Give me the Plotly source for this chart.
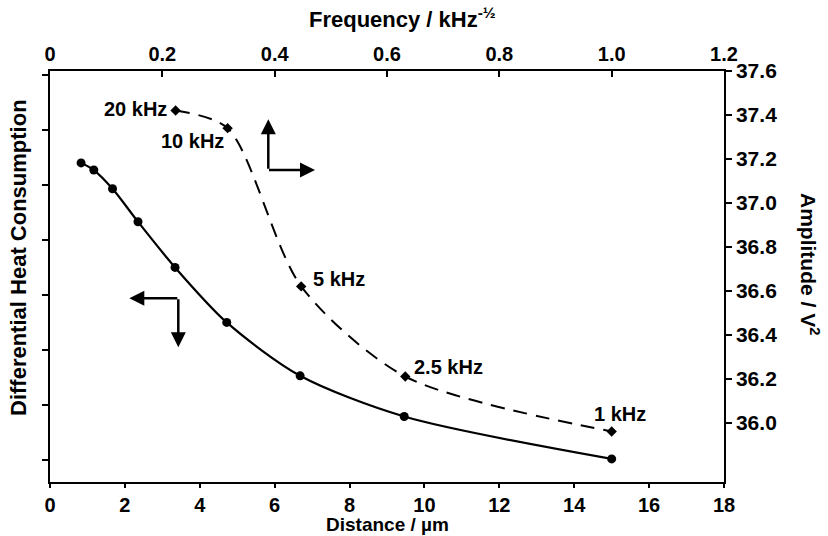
import plotly.graph_objects as go

# ---- data ----
distance_um = [0.83, 1.17, 1.67, 2.35, 3.34, 4.72, 6.68, 9.46, 15.0]
heat_consumption = [5.40, 5.27, 4.93, 4.33, 3.50, 2.50, 1.53, 0.79, 0.02]

freq_labels = ["20 kHz", "10 kHz", "5 kHz", "2.5 kHz", "1 kHz"]
freq_inv_sqrt = [0.2236, 0.3162, 0.4472, 0.6325, 1.0]
amplitude_v2 = [37.42, 37.34, 36.62, 36.21, 35.96]

bottom_ticks = [0, 2, 4, 6, 8, 10, 12, 14, 16, 18]
top_ticks = [0, 0.2, 0.4, 0.6, 0.8, 1.0, 1.2]
top_ticktext = ["0", "0.2", "0.4", "0.6", "0.8", "1.0", "1.2"]
right_ticks = [36.0, 36.2, 36.4, 36.6, 36.8, 37.0, 37.2, 37.4, 37.6]
left_ticks = [0, 1, 2, 3, 4, 5, 6, 7]

FONT = "Liberation Sans, Arial, sans-serif"

fig = go.Figure()

fig.add_trace(go.Scatter(
    x=distance_um, y=heat_consumption, mode="lines+markers",
    line=dict(color="black", width=2.2, shape="spline", smoothing=0.8),
    marker=dict(symbol="circle", size=9, color="black"),
    xaxis="x", yaxis="y", showlegend=False))

fig.add_trace(go.Scatter(
    x=freq_inv_sqrt, y=amplitude_v2, mode="lines+markers",
    line=dict(color="black", width=2, dash="14px,9px", shape="spline", smoothing=0.8),
    marker=dict(symbol="diamond", size=8, color="black"),
    xaxis="x2", yaxis="y2", showlegend=False))

axis_common = dict(showline=True, linecolor="black", linewidth=1.5,
                   showgrid=False, zeroline=False, tickcolor="black",
                   tickwidth=1.5, ticklen=6)
tick_font = dict(family=FONT, size=20, color="black", weight="bold")

fig.update_layout(
    width=828, height=536,
    margin=dict(l=50, r=104, t=71, b=54),
    paper_bgcolor="white", plot_bgcolor="white",
    font=dict(family=FONT, color="black", size=20),
    xaxis=dict(range=[0, 18], tickvals=bottom_ticks, ticks="outside",
               tickfont=tick_font, **{**axis_common, "ticklen": 4}),
    xaxis2=dict(range=[0, 1.2], tickvals=top_ticks, ticktext=top_ticktext,
                ticks="inside", side="top", overlaying="x", anchor="y",
                tickfont=tick_font, **axis_common),
    yaxis=dict(range=[-0.4, 7.07], tickvals=left_ticks, ticks="outside",
               showticklabels=False, **axis_common),
    yaxis2=dict(range=[35.73, 37.6], tickvals=right_ticks, tickformat=".1f",
                ticks="outside", side="right", overlaying="y", anchor="x",
                tickfont=dict(family=FONT, size=21, color="black", weight="bold"),
                **axis_common),
)

ann = []
# point labels
offsets = [("right", -7, 2), ("right", -2, -13), ("left", 10, 7), ("left", 7, 10), ("center", 8, 17)]
for lab, fx, amp, (xa, dx, dy) in zip(freq_labels, freq_inv_sqrt, amplitude_v2, offsets):
    ann.append(dict(x=fx, y=amp, xref="x2", yref="y2", text="<b>%s</b>" % lab,
                    showarrow=False, xanchor=xa, yanchor="middle", xshift=dx, yshift=dy,
                    font=dict(size=20)))

# axis titles
ann.append(dict(x=(402 - 50) / 674, y=1, xref="paper", yref="paper", yshift=53,
                text="<b>Frequency / kHz<sup>-½</sup></b>", showarrow=False,
                font=dict(size=22), xanchor="center", yanchor="middle"))
ann.append(dict(x=(387 - 50) / 674, y=0, xref="paper", yref="paper", yshift=-42,
                text="<b>Distance / µm</b>", showarrow=False,
                font=dict(size=19), xanchor="center", yanchor="middle"))
ann.append(dict(x=0, y=(482 - 258) / 411, xref="paper", yref="paper", xshift=-32,
                text="<b>Differential Heat Consumption</b>", showarrow=False, textangle=-90,
                font=dict(size=22), xanchor="center", yanchor="middle"))
ann.append(dict(x=1, y=(482 - 264) / 411, xref="paper", yref="paper", xshift=86,
                text="<b>Amplitude / V<sup>2</sup></b>", showarrow=False, textangle=90,
                font=dict(size=21), xanchor="center", yanchor="middle"))

# direction arrows (paper coords)
def P(px, py):
    return (px - 50) / 674, (482 - py) / 411

arrow_style = dict(xref="paper", yref="paper", showarrow=True, arrowhead=2,
                   arrowsize=1.2, arrowwidth=2.5, arrowcolor="black", text="")
for tip, (axp, ayp) in [((268.3, 119.3), (0, 51)), ((315, 170), (-47.5, 0)),
                        ((129.3, 298.3), (49.5, 0)), ((178.3, 347.3), (0, -49.5))]:
    x, y = P(*tip)
    ann.append(dict(x=x, y=y, ax=axp, ay=ayp, **arrow_style))

fig.update_layout(annotations=ann)
fig.write_html("out.html")
